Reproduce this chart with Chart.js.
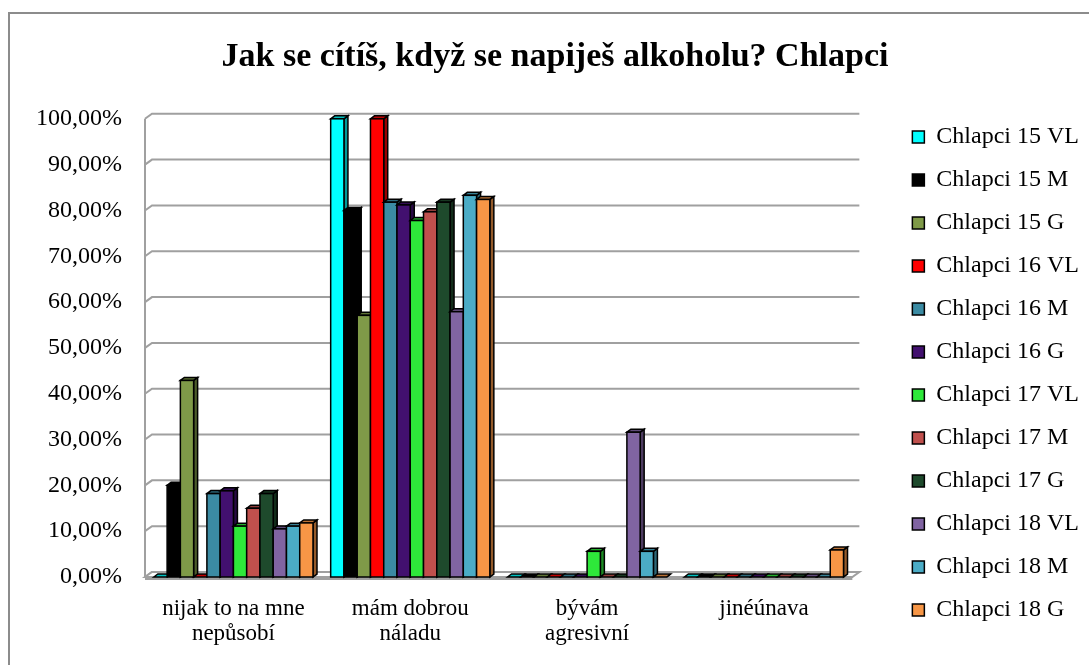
<!DOCTYPE html>
<html>
<head>
<meta charset="utf-8">
<title>Jak se cítíš, když se napiješ alkoholu? Chlapci</title>
<script src="https://cdn.jsdelivr.net/npm/chart.js"></script>
<style>
  body { margin: 0; background: #fff; }
  #wrap { width: 1089px; height: 665px; }
</style>
</head>
<body>
<div id="wrap"><canvas id="alkoholChart" width="1089" height="665"></canvas></div>
<script>
// categories (answers)
const categories = [['nijak to na mne', 'nepůsobí'], ['mám dobrou', 'náladu'], ['bývám', 'agresivní'], 'jinéúnava'];
const seriesNames = ['Chlapci 15 VL', 'Chlapci 15 M', 'Chlapci 15 G', 'Chlapci 16 VL', 'Chlapci 16 M', 'Chlapci 16 G',
                     'Chlapci 17 VL', 'Chlapci 17 M', 'Chlapci 17 G', 'Chlapci 18 VL', 'Chlapci 18 M', 'Chlapci 18 G'];
const seriesColors = ['#00FFFF', '#000000', '#7F9A48', '#FF0000', '#3B8BA3', '#42106F',
                      '#2EE83A', '#C0504D', '#1E4A2C', '#8064A2', '#4BACC6', '#F79646'];

// values in percent, one array per group
const chlapci15VL = [0, 100, 0, 0];
const chlapci15M  = [20, 80, 0, 0];
const chlapci15G  = [42.9, 57.1, 0, 0];
const chlapci16VL = [0, 100, 0, 0];
const chlapci16M  = [18.2, 81.8, 0, 0];
const chlapci16G  = [18.8, 81.2, 0, 0];
const chlapci17VL = [11.1, 77.8, 5.6, 0];
const chlapci17M  = [15, 79.7, 0, 0];
const chlapci17G  = [18.2, 81.8, 0, 0];
const chlapci18VL = [10.5, 57.9, 31.6, 0];
const chlapci18M  = [11.1, 83.3, 5.6, 0];
const chlapci18G  = [11.8, 82.4, 0, 5.9];

const seriesValues = [chlapci15VL, chlapci15M, chlapci15G, chlapci16VL, chlapci16M, chlapci16G,
                      chlapci17VL, chlapci17M, chlapci17G, chlapci18VL, chlapci18M, chlapci18G];
const yTicks = [0, 10, 20, 30, 40, 50, 60, 70, 80, 90, 100];

const serif = 'Liberation Serif, Times New Roman, serif';

function shade(hex, f) {
    const n = parseInt(hex.slice(1), 16);
    const r = Math.round(((n >> 16) & 255) * f);
    const g = Math.round(((n >> 8) & 255) * f);
    const b = Math.round((n & 255) * f);
    return 'rgb(' + r + ',' + g + ',' + b + ')';
}

// grey frame round the whole chart
const framePlugin = {
    id: 'frame',
    beforeDraw(chart) {
        const ctx = chart.ctx;
        ctx.save();
        ctx.fillStyle = '#fff';
        ctx.fillRect(0, 0, chart.width, chart.height);
        ctx.strokeStyle = '#8c8c8c';
        ctx.lineWidth = 2;
        ctx.strokeRect(9, 13, chart.width + 20, chart.height + 20);
        ctx.restore();
    }
};

// back wall, side wall and floor in pseudo 3D
const wallPlugin = {
    id: 'wall3d',
    beforeDatasetsDraw(chart) {
        const ctx = chart.ctx, a = chart.chartArea, y = chart.scales.y;
        const dx = 7, dy = 5;
        ctx.save();
        ctx.strokeStyle = '#a0a0a0';
        ctx.lineWidth = 2;
        y.ticks.forEach(t => {
            const py = y.getPixelForValue(t.value);
            ctx.beginPath();
            ctx.moveTo(a.left, py);
            ctx.lineTo(a.left + dx, py - dy);
            ctx.lineTo(a.right + dx, py - dy);
            ctx.stroke();
        });
        ctx.beginPath();
        ctx.moveTo(a.left, y.getPixelForValue(100));
        ctx.lineTo(a.left, a.bottom);
        ctx.stroke();
        // floor
        ctx.fillStyle = '#fff';
        ctx.beginPath();
        ctx.moveTo(a.left, a.bottom);
        ctx.lineTo(a.right, a.bottom);
        ctx.lineTo(a.right + dx, a.bottom - dy);
        ctx.lineTo(a.left + dx, a.bottom - dy);
        ctx.closePath();
        ctx.fill();
        ctx.stroke();
        ctx.fillStyle = '#a0a0a0';
        ctx.fillRect(a.left, a.bottom, a.right - a.left, 3);
        ctx.restore();
    }
};

// bars are drawn here (front, side, top) so that the next bar covers the previous side
const barsPlugin = {
    id: 'bars3d',
    beforeDatasetDraw() {
        return false;
    },
    afterDatasetsDraw(chart) {
        const ctx = chart.ctx, dx = 4, dy = 3;
        ctx.save();
        ctx.lineWidth = 1.5;
        ctx.strokeStyle = '#000';
        chart.data.datasets.forEach((ds, i) => {
            const meta = chart.getDatasetMeta(i);
            if (meta.hidden) return;
            meta.data.forEach(bar => {
                const p = bar.getProps(['x', 'y', 'base', 'width'], true);
                const l = p.x - p.width / 2, r = p.x + p.width / 2;
                // side
                ctx.fillStyle = shade(ds.backgroundColor, 0.6);
                ctx.beginPath();
                ctx.moveTo(r, p.y);
                ctx.lineTo(r + dx, p.y - dy);
                ctx.lineTo(r + dx, p.base - dy);
                ctx.lineTo(r, p.base);
                ctx.closePath();
                ctx.fill();
                ctx.stroke();
                // top
                ctx.fillStyle = shade(ds.backgroundColor, 0.75);
                ctx.beginPath();
                ctx.moveTo(l, p.y);
                ctx.lineTo(l + dx, p.y - dy);
                ctx.lineTo(r + dx, p.y - dy);
                ctx.lineTo(r, p.y);
                ctx.closePath();
                ctx.fill();
                ctx.stroke();
                // front
                if (p.base - p.y > 0) {
                    ctx.fillStyle = ds.backgroundColor;
                    ctx.fillRect(l, p.y, p.width, p.base - p.y);
                    ctx.strokeRect(l, p.y, p.width, p.base - p.y);
                }
            });
        });
        ctx.restore();
    }
};

const datasets = seriesNames.map((name, i) => ({
    label: name,
    data: seriesValues[i],
    backgroundColor: seriesColors[i],
    borderColor: '#000',
    borderWidth: 1.5
}));

const ctx = document.getElementById('alkoholChart').getContext('2d');
const chart = new Chart(ctx, {
    type: 'bar',
    data: { labels: categories, datasets: datasets },
    plugins: [framePlugin, wallPlugin, barsPlugin],
    options: {
        responsive: false,
        animation: false,
        layout: { padding: { left: 21, right: 0, top: 0, bottom: 0 } },
        datasets: { bar: { categoryPercentage: 0.9, barPercentage: 1.0 } },
        scales: {
            x: {
                grid: { display: false },
                border: { display: false },
                ticks: { color: '#000', font: { family: serif, size: 23, lineHeight: 1.1 }, padding: 11, maxRotation: 0 },
                afterFit(s) { s.height = 88; }
            },
            y: {
                min: 0,
                max: 100,
                afterBuildTicks(s) { s.ticks = yTicks.map(v => ({ value: v })); },
                grid: { display: false, drawTicks: false },
                border: { display: false },
                ticks: {
                    color: '#000',
                    font: { family: serif, size: 24 },
                    padding: 23,
                    callback: v => v.toFixed(2).replace('.', ',') + '%'
                },
                afterFit(s) { s.width = 124; }
            },
            gap: {
                position: 'right',
                grid: { display: false },
                border: { display: false },
                ticks: { display: false },
                afterFit(s) { s.width = 41; }
            }
        },
        plugins: {
            title: {
                display: true,
                text: 'Jak se cítíš, když se napiješ alkoholu? Chlapci',
                color: '#000',
                font: { family: serif, size: 34, weight: 'bold' },
                padding: { top: 37, bottom: 41 }
            },
            legend: {
                position: 'right',
                maxWidth: 260,
                title: { display: true, text: ' ', font: { size: 10 }, padding: { top: 70, bottom: 0 } },
                labels: {
                    color: '#000',
                    font: { family: serif, size: 24 },
                    boxWidth: 12,
                    boxHeight: 12,
                    padding: 19
                }
            },
            tooltip: { enabled: false }
        }
    }
});
</script>
</body>
</html>
